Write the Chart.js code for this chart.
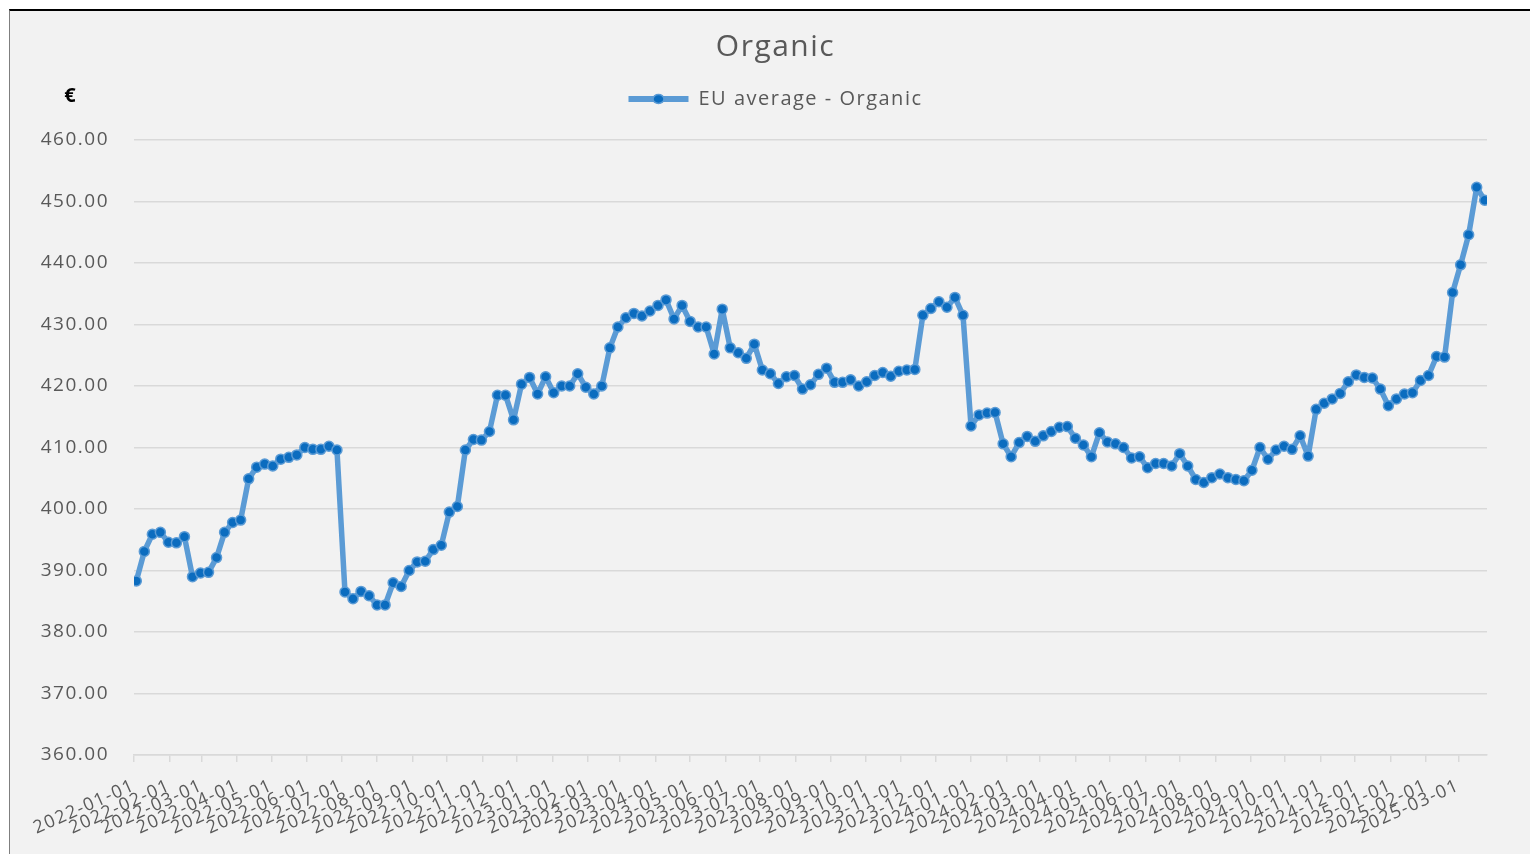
<!DOCTYPE html>
<html>
<head>
<meta charset="utf-8">
<script src="https://cdn.jsdelivr.net/npm/chart.js"></script>
<style>
  html, body { margin: 0; padding: 0; background: #fff; overflow: hidden; }
  #box {
    position: absolute; left: 9px; top: 9px;
    width: 1531px; height: 843px;
    background: #f2f2f2;
    border-top: 2px solid #000;
    border-left: 1px solid #7f7f7f;
  }
</style>
</head>
<body>
<div id="box"><canvas id="organicChart" width="1531" height="843"></canvas></div>
<script>
// weekly EU average price, organic (€), first week starting 2022-01-03
const firstWeek = '2022-01-03';
const euOrganic = [
  388.3, 393.1, 395.9, 396.2, 394.6, 394.5, 395.5, 389.0, 389.6, 389.7,
  392.1, 396.2, 397.8, 398.2, 404.9, 406.8, 407.3, 407.0, 408.1, 408.4,
  408.8, 410.0, 409.7, 409.7, 410.2, 409.6, 386.5, 385.4, 386.6, 385.9,
  384.4, 384.4, 388.0, 387.4, 390.0, 391.4, 391.5, 393.4, 394.1, 399.5,
  400.4, 409.6, 411.3, 411.2, 412.6, 418.5, 418.5, 414.5, 420.3, 421.4,
  418.7, 421.5, 418.9, 420.0, 420.0, 422.0, 419.8, 418.7, 420.0, 426.2,
  429.6, 431.1, 431.8, 431.4, 432.2, 433.1, 434.0, 430.9, 433.1, 430.5,
  429.6, 429.6, 425.2, 432.5, 426.2, 425.4, 424.5, 426.8, 422.6, 422.0,
  420.4, 421.5, 421.7, 419.5, 420.2, 421.9, 422.9, 420.6, 420.6, 421.0,
  420.0, 420.7, 421.7, 422.2, 421.6, 422.4, 422.6, 422.7, 431.5, 432.6,
  433.7, 432.8, 434.4, 431.5, 413.5, 415.3, 415.6, 415.7, 410.6, 408.5,
  410.8, 411.8, 411.0, 411.9, 412.6, 413.3, 413.4, 411.5, 410.4, 408.5,
  412.4, 410.9, 410.6, 410.0, 408.3, 408.5, 406.7, 407.4, 407.4, 407.0,
  409.0, 407.0, 404.8, 404.3, 405.1, 405.7, 405.1, 404.8, 404.6, 406.3,
  410.0, 408.1, 409.6, 410.2, 409.7, 411.9, 408.6, 416.2, 417.2, 417.9,
  418.8, 420.7, 421.8, 421.4, 421.3, 419.5, 416.8, 417.9, 418.7, 418.9,
  420.9, 421.7, 424.8, 424.7, 435.2, 439.7, 444.6, 452.3, 450.2
];
const monthLabels = [
  '2022-01-01', '2022-02-01', '2022-03-01', '2022-04-01', '2022-05-01', '2022-06-01',
  '2022-07-01', '2022-08-01', '2022-09-01', '2022-10-01', '2022-11-01', '2022-12-01',
  '2023-01-01', '2023-02-01', '2023-03-01', '2023-04-01', '2023-05-01', '2023-06-01',
  '2023-07-01', '2023-08-01', '2023-09-01', '2023-10-01', '2023-11-01', '2023-12-01',
  '2024-01-01', '2024-02-01', '2024-03-01', '2024-04-01', '2024-05-01', '2024-06-01',
  '2024-07-01', '2024-08-01', '2024-09-01', '2024-10-01', '2024-11-01', '2024-12-01',
  '2025-01-01', '2025-02-01', '2025-03-01'
];
const seriesLabel = 'EU average - Organic';

const day0 = Date.parse(monthLabels[0] + 'T00:00:00Z');
const toDay = s => (Date.parse(s + 'T00:00:00Z') - day0) / 864e5;
const monthDays = monthLabels.map(toDay);
const startDay = toDay(firstWeek);
const points = euOrganic.map((v, i) => ({ x: startDay + 7 * i, y: v }));
const lastDay = points[points.length - 1].x;

const FONT = 'Open Sans';
const TEXT = '#595959';
const GRID = '#d9d9d9';
const BLUE = '#5b9bd5';
const DOT = '#0b6cbf';

const extras = {
  id: 'extras',
  beforeLayout(chart) {
    chart.ctx.letterSpacing = '1.5px';
    const lg = chart.legend;
    if (lg && !lg._gap) {
      const fit = lg.fit;
      lg.fit = function () { fit.call(this); this.height += 21; };
      lg._gap = true;
    }
  },
  afterLayout(chart) {
    // centre title and legend on the whole chart, not only the plot width
    [chart.titleBlock, chart.legend].forEach(b => {
      if (!b) return;
      b.left = 0;
      b.right = chart.width;
      b.width = chart.width;
    });
  },
  beforeDraw(chart) {
    chart.ctx.letterSpacing = '1.5px';
  },
  afterDraw(chart) {
    const ctx = chart.ctx;
    const hb = chart.legend.legendHitBoxes[0];
    ctx.save();
    ctx.beginPath();
    ctx.ellipse(hb.left + 30, hb.top + hb.height / 2, 5.5, 4.5, 0, 0, Math.PI * 2);
    ctx.fillStyle = DOT;
    ctx.fill();
    ctx.lineWidth = 1.5;
    ctx.strokeStyle = BLUE;
    ctx.stroke();
    ctx.letterSpacing = '0px';
    ctx.font = 'bold 20px "' + FONT + '"';
    ctx.fillStyle = '#000';
    ctx.textAlign = 'center';
    ctx.textBaseline = 'middle';
    ctx.fillText('€', 60, 85);
    ctx.restore();
  }
};

Chart.defaults.font.family = FONT;

new Chart(document.getElementById('organicChart'), {
  type: 'line',
  data: {
    datasets: [{
      label: seriesLabel,
      data: points,
      borderColor: BLUE,
      backgroundColor: BLUE,
      borderWidth: 5.5,
      borderJoinStyle: 'round',
      borderCapStyle: 'round',
      pointRadius: 5,
      pointBorderWidth: 1.5,
      pointBackgroundColor: DOT,
      pointBorderColor: BLUE,
      tension: 0,
      fill: false
    }]
  },
  options: {
    responsive: false,
    animation: false,
    layout: { padding: { left: 0, right: 54, top: 0, bottom: 0 } },
    plugins: {
      title: {
        display: true,
        text: 'Organic',
        color: TEXT,
        font: { size: 30, weight: 'normal' },
        padding: { top: 18, bottom: 14 }
      },
      legend: {
        display: true,
        labels: {
          color: TEXT,
          font: { size: 20 },
          boxWidth: 60,
          boxHeight: 6,
          padding: 10,
          generateLabels: c => Chart.defaults.plugins.legend.labels.generateLabels(c)
            .map(l => Object.assign(l, { lineWidth: 0, fillStyle: BLUE }))
        }
      },
      tooltip: { enabled: false }
    },
    scales: {
      x: {
        type: 'linear',
        min: 0,
        max: lastDay + 2,
        afterBuildTicks: s => { s.ticks = monthDays.map(v => ({ value: v })); },
        afterFit: s => { s.height = 99; },
        ticks: {
          autoSkip: false,
          minRotation: 24,
          maxRotation: 24,
          color: TEXT,
          font: { size: 18 },
          padding: 13,
          callback: (v, i) => monthLabels[i]
        },
        grid: { drawOnChartArea: false, drawTicks: true, tickLength: 7, color: GRID, lineWidth: 1.5 },
        border: { display: true, color: GRID, width: 1.5 }
      },
      y: {
        min: 360,
        max: 460,
        afterFit: s => { s.width = 124; },
        ticks: {
          stepSize: 10,
          color: TEXT,
          font: { size: 19 },
          padding: 25,
          callback: v => v.toFixed(2)
        },
        grid: { color: GRID, lineWidth: 1.5, drawTicks: false },
        border: { display: false }
      }
    }
  },
  plugins: [extras]
});
</script>
</body>
</html>
